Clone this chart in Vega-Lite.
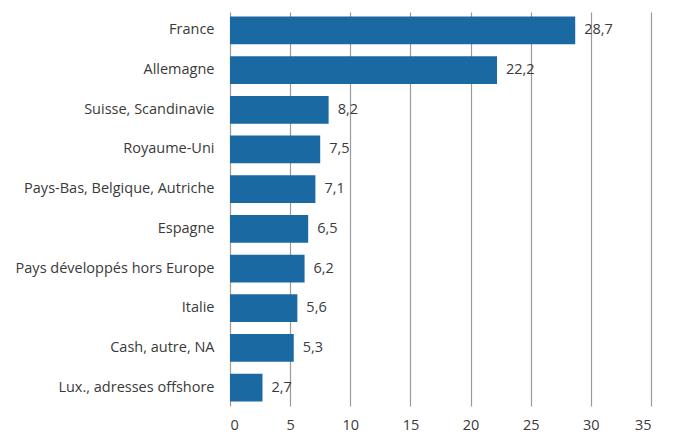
{
  "$schema": "https://vega.github.io/schema/vega-lite/v6.json",
  "width": 421,
  "height": 394,
  "autosize": {"type": "none"},
  "padding": {"left": 230, "top": 12, "right": 23, "bottom": 28},
  "background": "white",
  "config": {"view": {"stroke": null}, "font": "Open Sans"},
  "data": {"values": [
    {"region": "France", "value": 28.7, "label": "28,7"},
    {"region": "Allemagne", "value": 22.2, "label": "22,2"},
    {"region": "Suisse, Scandinavie", "value": 8.2, "label": "8,2"},
    {"region": "Royaume-Uni", "value": 7.5, "label": "7,5"},
    {"region": "Pays-Bas, Belgique, Autriche", "value": 7.1, "label": "7,1"},
    {"region": "Espagne", "value": 6.5, "label": "6,5"},
    {"region": "Pays développés hors Europe", "value": 6.2, "label": "6,2"},
    {"region": "Italie", "value": 5.6, "label": "5,6"},
    {"region": "Cash, autre, NA", "value": 5.3, "label": "5,3"},
    {"region": "Lux., adresses offshore", "value": 2.7, "label": "2,7"}
  ]},
  "encoding": {
    "y": {"field": "region", "type": "nominal", "sort": null, "title": null,
      "scale": {"paddingInner": 0.3, "paddingOuter": 0.115},
      "axis": {"ticks": false, "domain": false, "labelPadding": 16, "labelLimit": 300, "labelFontSize": 14.5, "labelColor": "#3a3a3a", "labelFont": "Open Sans"}},
    "x": {"field": "value", "type": "quantitative", "title": null,
      "scale": {"domain": [0, 35], "nice": false},
      "axis": {"values": [0,5,10,15,20,25,30,35], "ticks": false, "domain": false, "grid": true, "gridColor": "#9a9a9a", "gridWidth": 1.2, "labelPadding": 12, "labelFontSize": 14.5, "labelColor": "#3a3a3a", "labelFont": "Open Sans"}}
  },
  "layer": [
    {"mark": {"type": "bar", "color": "#1b69a3"}},
    {"mark": {"type": "text", "align": "left", "dx": 9, "fontSize": 14.5, "color": "#3a3a3a"},
     "encoding": {"text": {"field": "label"}}}
  ]
}
